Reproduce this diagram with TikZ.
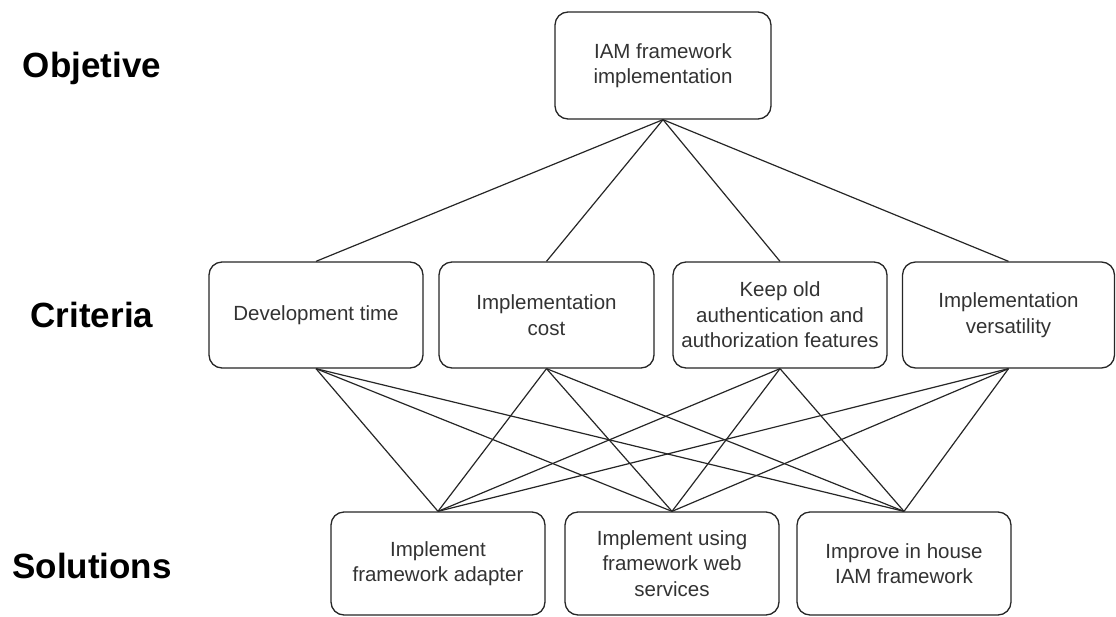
\documentclass[tikz,border=0pt]{standalone}
\usepackage{fontspec}
\setmainfont{Liberation Sans}
\begin{document}
\begin{tikzpicture}[x=1pt,y=-1pt,
  box/.style={draw=black!85, line width=1.3pt, rounded corners=13pt, fill=white,
    align=center, inner sep=0pt, text=black!80,
    font=\fontsize{20.5}{25.5}\selectfont},
  level/.style={anchor=base, font=\fontsize{35}{42}\selectfont\bfseries},
  link/.style={draw=black!85, line width=1.2pt}]
\useasboundingbox (0,0) rectangle (1116,616);

% level captions
\node[level] (lobj) at (92,77) {Objetive};
\node[level] (lcrit) at (92,327) {Criteria};
\node[level] (lsol) at (92,578) {Solutions};

% objective
\node[box, minimum width=216pt, minimum height=107pt] (obj) at (663,65.5) {IAM framework\\implementation};

% criteria
\node[box, minimum width=214pt, minimum height=106pt] (c1) at (316,315) {Development time};
\node[box, minimum width=215pt, minimum height=106pt] (c2) at (546.5,315) {Implementation\\cost};
\node[box, minimum width=214pt, minimum height=106pt] (c3) at (780,315) {Keep old\\authentication and\\authorization features};
\node[box, minimum width=212pt, minimum height=106pt] (c4) at (1008.5,315) {Implementation\\versatility};

% solutions
\node[box, minimum width=214pt, minimum height=103pt] (s1) at (438,563.5) {Implement\\framework adapter};
\node[box, minimum width=214pt, minimum height=103pt] (s2) at (672,563.5) {Implement using\\framework web\\services};
\node[box, minimum width=214pt, minimum height=103pt] (s3) at (904,563.5) {Improve in house\\IAM framework};

% objective to criteria
\foreach \c in {c1,c2,c3,c4}
  \draw[link] (obj.south) -- (\c.north);

% criteria to solutions
\foreach \c in {c1,c2,c3,c4}
  \foreach \s in {s1,s2,s3}
    \draw[link] (\c.south) -- (\s.north);
\end{tikzpicture}
\end{document}
